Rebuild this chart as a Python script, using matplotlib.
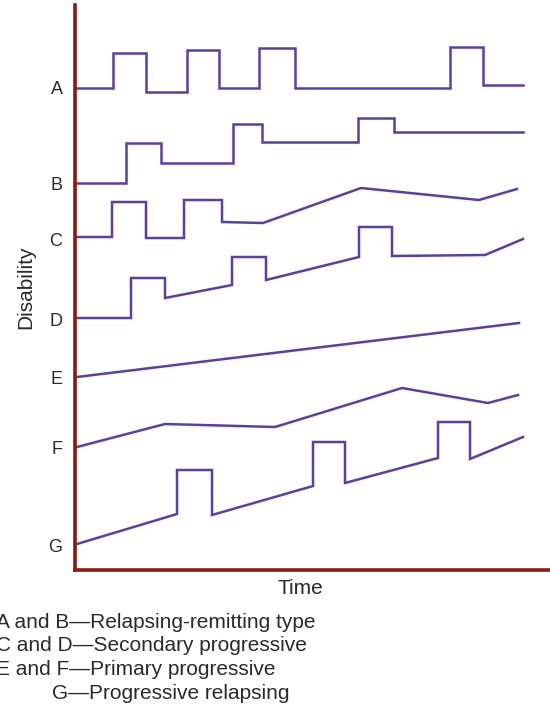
import matplotlib.pyplot as plt

# curve vertices (time, disability in image units; y grows downward)
a_x = [77, 113, 113, 146, 146, 187, 187, 219, 219, 259, 259, 295, 295, 450, 450, 483, 483, 523]
a_y = [88, 88, 53, 53, 92, 92, 50, 50, 88, 88, 48, 48, 88, 88, 47, 47, 85, 85]
b_x = [77, 126, 126, 161, 161, 233, 233, 262, 262, 358, 358, 394, 394, 523]
b_y = [183, 183, 143, 143, 163, 163, 124, 124, 142, 142, 118, 118, 132, 132]
c_x = [77, 112, 112, 146, 146, 184, 184, 222, 222, 263, 361, 479, 517]
c_y = [237, 237, 202, 202, 238, 238, 200, 200, 222, 223, 188, 200, 189]
d_x = [77, 131, 131, 165, 165, 232, 232, 266, 266, 359, 359, 392, 392, 485, 523]
d_y = [318, 318, 278, 278, 298, 285, 257, 257, 280, 257, 227, 227, 256, 255, 239]
e_x = [77, 519]
e_y = [377, 323]
f_x = [77, 165, 275, 402, 488, 518]
f_y = [447, 424, 427, 388, 403, 395]
g_x = [77, 177, 177, 212, 212, 313, 313, 345, 345, 438, 438, 470, 470, 523]
g_y = [544, 514, 470, 470, 515, 486, 442, 442, 483, 458, 422, 422, 459, 437]

curves = [(a_x, a_y), (b_x, b_y), (c_x, c_y), (d_x, d_y), (e_x, e_y), (f_x, f_y), (g_x, g_y)]
labels = ["A", "B", "C", "D", "E", "F", "G"]
label_pos = [88, 183, 240, 320, 378, 448, 545]
notes = ["A and B\u2014Relapsing-remitting type",
         "C and D\u2014Secondary progressive",
         "E and F\u2014Primary progressive",
         "G\u2014Progressive relapsing"]

plt.rcParams['font.family'] = ['Liberation Sans', 'DejaVu Sans']
W, H = 550, 706
fig = plt.figure(figsize=(W / 100, H / 100), dpi=100)
ax = fig.add_axes([75 / W, (H - 570) / H, 475 / W, 565 / H])
ax.set_xlim(75, 550)
ax.set_ylim(570, 5)

line_col = '#5a3fa8'
for x, y in curves:
    ax.plot(x, y, color=line_col, lw=1.8, solid_joinstyle='miter', clip_on=False)

red = '#8a1a10'
for s in ['top', 'right']:
    ax.spines[s].set_visible(False)
for s in ['left', 'bottom']:
    ax.spines[s].set_color(red)
    ax.spines[s].set_linewidth(2.6)

txt = '#2a2a2a'
ax.set_xticks([])
ax.set_yticks(label_pos, labels)
ax.tick_params(axis='y', length=0, pad=9, labelsize=13, labelcolor=txt)
ax.set_ylabel("Disability", fontsize=15, color=txt, va='center')
ax.yaxis.set_label_coords((26 - 75) / 475, (570 - 287) / 565)
ax.set_xlabel("Time", fontsize=15, color=txt, va='center')
ax.xaxis.set_label_coords((300 - 75) / 475, (570 - 589) / 565)

y0 = 622
for i, t in enumerate(notes):
    x = 52 / W if i == 3 else -4 / W
    fig.text(x, (H - y0 - i * 23.7) / H, t, fontsize=15, color=txt, va='center')

plt.savefig("out.png", dpi=100)
